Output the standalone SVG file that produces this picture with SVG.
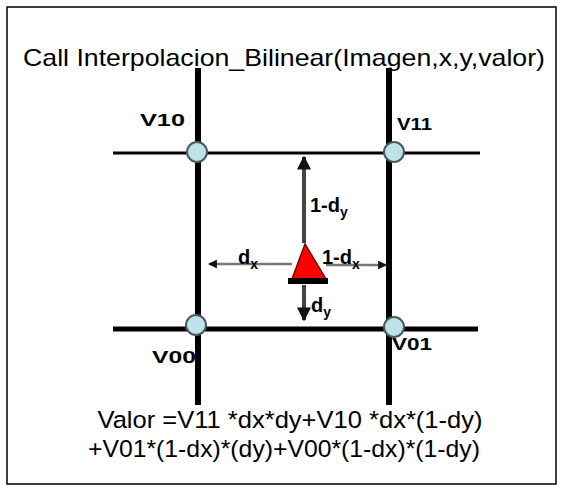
<svg xmlns="http://www.w3.org/2000/svg" width="576" height="493" viewBox="0 0 576 493">
<defs>
<style>
.t{font-family:"Liberation Sans",Arial,sans-serif;fill:#000}
.lab{font-family:"Liberation Sans",Arial,sans-serif;font-weight:bold;font-size:17px;fill:#000}
.m{font-family:"Liberation Sans",Arial,sans-serif;font-weight:bold;font-size:20px;fill:#000}
.node{fill:#bfe2e8;stroke:#4a5a5c;stroke-width:2}
.grid{stroke:#000;fill:none}
</style>
<marker id="ah" viewBox="0 0 10 10" refX="9" refY="5" markerWidth="3.5" markerHeight="3.5" orient="auto-start-reverse">
<path d="M0,0 L10,5 L0,10 z" fill="#111"/>
</marker>
</defs>
<rect x="7" y="7" width="549" height="477" fill="#fff" stroke="#000" stroke-width="1.5"/>
<text class="t" x="23" y="66" font-size="24" textLength="522" lengthAdjust="spacingAndGlyphs">Call Interpolacion_Bilinear(Imagen,x,y,valor)</text>
<g id="connectors">
<line class="grid" x1="198" y1="68" x2="198" y2="405" stroke-width="6"/>
<line class="grid" x1="389" y1="68" x2="389" y2="405" stroke-width="6"/>
<line class="grid" x1="113" y1="153" x2="480" y2="153" stroke-width="3"/>
<line class="grid" x1="113" y1="329" x2="478" y2="329" stroke-width="5"/>
<line x1="304" y1="243" x2="304" y2="157" stroke="#444" stroke-width="4" marker-end="url(#ah)"/>
<line x1="304" y1="285" x2="304" y2="320" stroke="#444" stroke-width="4" marker-end="url(#ah)"/>
<line x1="292" y1="264" x2="209" y2="264" stroke="#777" stroke-width="2.5" marker-end="url(#ah)"/>
<line x1="326" y1="265" x2="386" y2="265" stroke="#777" stroke-width="2.5" marker-end="url(#ah)"/>
</g>
<g id="n-v10"><circle class="node" cx="197" cy="152" r="10"/><text class="lab" x="140" y="126" textLength="45" lengthAdjust="spacingAndGlyphs">V10</text></g>
<g id="n-v11"><circle class="node" cx="394" cy="152" r="10"/><text class="lab" x="397" y="130" textLength="35" lengthAdjust="spacingAndGlyphs">V11</text></g>
<g id="n-v00"><circle class="node" cx="196" cy="325" r="10"/><text class="lab" x="152" y="363" textLength="44" lengthAdjust="spacingAndGlyphs">V00</text></g>
<g id="n-v01"><circle class="node" cx="394" cy="327" r="10"/><text class="lab" x="392" y="350" textLength="40" lengthAdjust="spacingAndGlyphs">V01</text></g>
<g id="p"><path d="M305,244 L292,279 L326,279 z" fill="#f00" stroke="#7a0000" stroke-width="1.5"/><rect x="288" y="278" width="40" height="6" fill="#000"/></g>
<text class="m" x="310" y="212">1-d<tspan font-size="14" dy="5">y</tspan></text>
<text class="m" x="238" y="264">d<tspan font-size="14" dy="5">x</tspan></text>
<text class="m" x="322" y="264">1-d<tspan font-size="14" dy="5">x</tspan></text>
<text class="m" x="311" y="312">d<tspan font-size="14" dy="5">y</tspan></text>
<text class="t" x="290" y="428" font-size="24.5" text-anchor="middle" textLength="385" lengthAdjust="spacingAndGlyphs">Valor =V11 *dx*dy+V10 *dx*(1-dy)</text>
<text class="t" x="284" y="457" font-size="24.5" text-anchor="middle" textLength="392" lengthAdjust="spacingAndGlyphs">+V01*(1-dx)*(dy)+V00*(1-dx)*(1-dy)</text>
</svg>
